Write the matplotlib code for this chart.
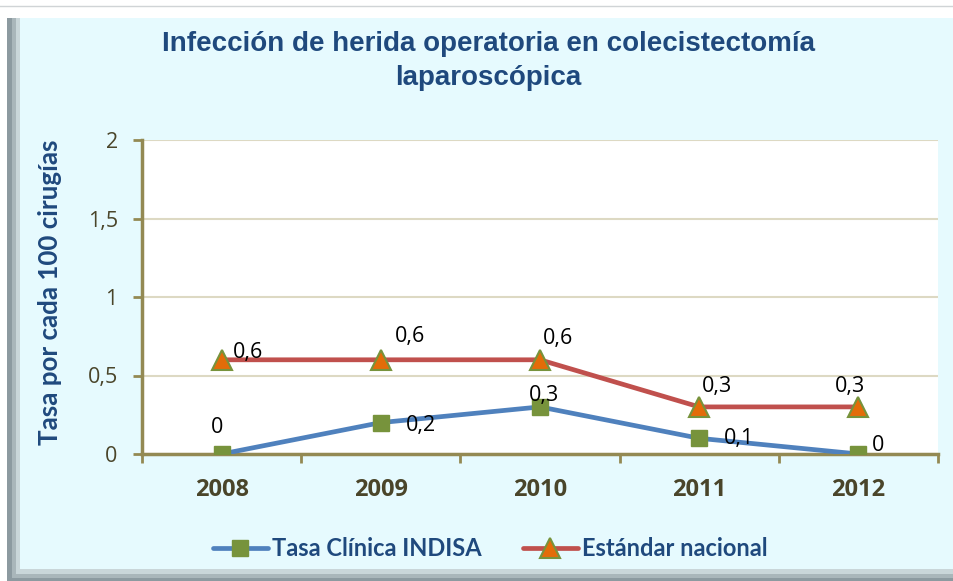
import matplotlib.pyplot as plt
import matplotlib.patches as mpatches
import numpy as np

years = ['2008', '2009', '2010', '2011', '2012']
tasa_indisa = [0, 0.2, 0.3, 0.1, 0]
estandar = [0.6, 0.6, 0.6, 0.3, 0.3]
tasa_labels = ['0', '0,2', '0,3', '0,1', '0']
estandar_labels = ['0,6', '0,6', '0,6', '0,3', '0,3']
yticks = [0, 0.5, 1, 1.5, 2]
ytick_labels = ['0', '0,5', '1', '1,5', '2']

# label offsets (points) per point
tasa_off = [(-3, 19), (29, -2), (3, 8), (29, 0), (14, 6)]
est_off = [(19, 5), (21, 17), (13, 15), (13, 15), (-6, 15)]

title_col = '#1F497D'
tick_col = '#4A452A'
spine_col = '#938953'

fig = plt.figure(figsize=(9.54, 5.81), dpi=100)
fig.patch.set_facecolor('white')

# frame of the chart (cyan panel with shadow) on a background axes
bg = fig.add_axes([0, 0, 1, 1], zorder=-1)
bg.set_xlim(0, 954)
bg.set_ylim(581, 0)
bg.axis('off')
bg.plot([0, 954], [6, 6], color='#D0D4D6', lw=1)
bg.add_patch(mpatches.Rectangle((7, 18), 947, 563, facecolor='#8C9AA0', edgecolor='none'))
bg.add_patch(mpatches.Rectangle((12, 18), 942, 560, facecolor='#A9B6BA', edgecolor='none'))
bg.add_patch(mpatches.Rectangle((16, 18), 938, 556, facecolor='#C9D6D9', edgecolor='none'))
bg.add_patch(mpatches.Rectangle((20, 18), 934, 551, facecolor='#E6FAFE', edgecolor='none'))

ax = fig.add_axes([142 / 954, 1 - 454 / 581, 796 / 954, 314 / 581], zorder=1)
ax.set_facecolor('white')
x = np.arange(len(years))

ax.plot(x, tasa_indisa, color='#4F81BD', lw=3.4, marker='s', ms=11.5,
        mfc='#77933C', mec='#77933C', label='Tasa Clínica INDISA', zorder=3,
        solid_capstyle='round')
ax.plot(x, estandar, color='#C0504D', lw=3.4, marker='^', ms=14,
        mfc='#E36C09', mec='#77933C', mew=1.5, label='Estándar nacional', zorder=3,
        solid_capstyle='round')

for i in range(len(years)):
    ax.annotate(tasa_labels[i], (x[i], tasa_indisa[i]), xytext=tasa_off[i],
                textcoords='offset points', ha='center', va='center',
                fontsize=15.5, family='Open Sans', color='black', zorder=4)
    ax.annotate(estandar_labels[i], (x[i], estandar[i]), xytext=est_off[i],
                textcoords='offset points', ha='center', va='center',
                fontsize=15.5, family='Open Sans', color='black', zorder=4)

ax.set_xlim(-0.5, 4.5)
ax.set_ylim(0, 2)
ax.set_yticks(yticks)
ax.set_yticklabels(ytick_labels, fontsize=15.5, color=tick_col, family='Open Sans')
ax.set_xticks(x)
ax.set_xticklabels(years, fontsize=17, fontweight='bold', color=tick_col, family='Open Sans')
ax.set_xticks(np.arange(-0.5, 5, 1), minor=True)
ax.tick_params(axis='x', which='major', length=0, pad=17)
ax.tick_params(axis='x', which='minor', length=6.5, color=spine_col, width=2)
ax.tick_params(axis='y', length=6.5, color=spine_col, width=2, pad=11)
ax.grid(axis='y', color='#DDD9C3', lw=1.5)
ax.set_axisbelow(True)
for s in ['top', 'right']:
    ax.spines[s].set_visible(False)
for s in ['left', 'bottom']:
    ax.spines[s].set_color(spine_col)
    ax.spines[s].set_linewidth(2.5)

ax.set_ylabel('Tasa por cada 100 cirugías', fontsize=18.7, fontweight='bold',
              color=title_col, family='Lato')
ax.yaxis.set_label_coords((62 - 142) / 796, (454 - 292) / 314)

fig.text(488 / 954, 1 - 61 / 581, 'Infección de herida operatoria en colecistectomía\nlaparoscópica',
         ha='center', va='center', fontsize=20, fontweight='bold', color=title_col,
         family='Liberation Sans', linespacing=1.38)

leg = fig.legend(loc='center', bbox_to_anchor=(490 / 954, 1 - 549 / 581), ncol=2,
                 frameon=False, prop={'family': 'Lato', 'weight': 'bold', 'size': 17},
                 handlelength=2.33, handletextpad=0.17, columnspacing=1.74)
for t in leg.get_texts():
    t.set_color(title_col)

fig.savefig('out.png', dpi=100, facecolor=fig.get_facecolor())
